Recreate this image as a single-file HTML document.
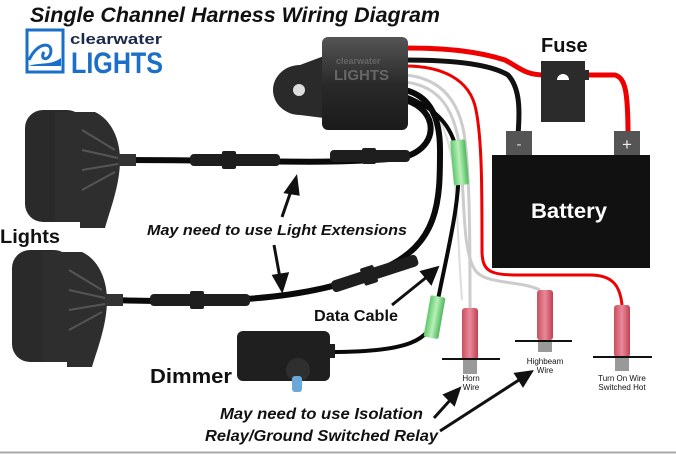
<!DOCTYPE html>
<html><head><meta charset="utf-8"><style>
html,body{margin:0;padding:0;background:#fff;}
svg{display:block;}
text{font-family:"Liberation Sans","DejaVu Sans",sans-serif;}
</style></head><body>
<svg width="676" height="454" viewBox="0 0 676 454" xmlns="http://www.w3.org/2000/svg">
<defs>
<linearGradient id="lg" x1="0" y1="0" x2="0" y2="1"><stop offset="0" stop-color="#555"/><stop offset="0.5" stop-color="#2a2a2a"/><stop offset="1" stop-color="#1a1a1a"/></linearGradient>
<linearGradient id="pk" x1="0" y1="0" x2="1" y2="0"><stop offset="0" stop-color="#c9505e"/><stop offset="0.5" stop-color="#e8899a"/><stop offset="1" stop-color="#c04050"/></linearGradient>
<linearGradient id="gr" x1="0" y1="0" x2="1" y2="0"><stop offset="0" stop-color="#5fc86a"/><stop offset="0.5" stop-color="#b8f0b8"/><stop offset="1" stop-color="#4db85a"/></linearGradient>
</defs>
<rect width="676" height="454" fill="#fff"/>
<line x1="0" y1="452.5" x2="676" y2="452.5" stroke="#aaa" stroke-width="2"/>
<text x="30" y="22" font-size="21" font-style="italic" font-weight="bold" fill="#111" textLength="410" lengthAdjust="spacingAndGlyphs">Single Channel Harness Wiring Diagram</text>
<!-- logo -->
<rect x="27" y="30" width="36" height="42" fill="none" stroke="#1a6fc9" stroke-width="3"/>
<path d="M29 60 C38 40 55 42 50 55 C46 62 40 58 44 52" fill="none" stroke="#1a6fc9" stroke-width="3"/>
<path d="M29 66 L61 66 L61 58 C50 66 38 62 29 66Z" fill="#1a6fc9"/>
<text x="70" y="44" font-size="15" font-weight="bold" fill="#1b2a4a" textLength="92" lengthAdjust="spacingAndGlyphs">clearwater</text>
<text x="71" y="73" font-size="30" font-weight="bold" fill="#1a6fc9" textLength="92" lengthAdjust="spacingAndGlyphs">LIGHTS</text>
<!-- power wires -->
<path d="M405 48 C450 48 480 52 505 60 C520 68 525 75 545 75" fill="none" stroke="#e00" stroke-width="5"/>
<path d="M585 75 L615 75 C625 78 628 90 628 135" fill="none" stroke="#e00" stroke-width="5"/>
<path d="M405 60 C450 60 490 64 508 75 C520 88 520 110 518 135" fill="none" stroke="#111" stroke-width="5"/>
<path d="M405 66 C440 66 470 78 476 110 C482 140 482 190 482 250 C482 272 490 275 520 275 L590 275 C612 275 620 285 622 305" fill="none" stroke="#e00" stroke-width="3"/>
<!-- gray wires -->
<path d="M405 75 C440 78 460 100 465 140 C470 180 470 250 470 310" fill="none" stroke="#ccc" stroke-width="3"/>
<path d="M405 82 C440 86 455 110 460 150 C465 200 462 250 475 270 C485 285 520 280 540 290" fill="none" stroke="#ccc" stroke-width="3"/>
<path d="M405 88 C430 95 445 120 452 160 C458 200 458 250 462 300" fill="none" stroke="#ddd" stroke-width="2"/>
<!-- fuse -->
<rect x="541" y="61" width="44" height="61" fill="#2b2b2b"/>
<rect x="583" y="70" width="6" height="10" fill="#2b2b2b"/>
<path d="M557 80 a6 6 0 0 1 12 0 Z" fill="#fff"/>
<text x="541" y="52" font-size="20" font-weight="bold" fill="#111">Fuse</text>
<!-- battery -->
<rect x="506" y="131" width="26" height="25" fill="#555"/>
<rect x="614" y="131" width="26" height="25" fill="#555"/>
<text x="519" y="149" font-size="15" fill="#ddd" text-anchor="middle">-</text>
<text x="627" y="150" font-size="17" fill="#eee" text-anchor="middle">+</text>
<rect x="492" y="155" width="158" height="113" fill="#111"/>
<text x="531" y="218" font-size="21" font-weight="bold" fill="#fff" textLength="76" lengthAdjust="spacingAndGlyphs">Battery</text>
<!-- light cables -->
<path d="M118 160 C250 160 330 165 400 158 C440 150 440 110 405 100" fill="none" stroke="#0a0a0a" stroke-width="6"/>
<path d="M105 300 C200 302 300 305 380 270 C440 245 440 200 440 150 C440 110 425 95 405 90" fill="none" stroke="#0a0a0a" stroke-width="6"/>
<path d="M405 96 C440 110 455 130 458 160 C462 200 445 260 435 315 C430 340 410 352 330 352" fill="none" stroke="#0a0a0a" stroke-width="4"/>
<!-- inline connectors -->
<g fill="#1e1e1e">
<rect x="190" y="154" width="90" height="12" rx="4"/><rect x="222" y="151" width="14" height="18" rx="2"/>
<rect x="330" y="150" width="80" height="12" rx="4"/><rect x="362" y="148" width="14" height="16" rx="2"/>
<rect x="150" y="294" width="100" height="12" rx="4"/><rect x="190" y="291" width="14" height="18" rx="2"/>
<g transform="rotate(-18 370 275)"><rect x="330" y="269" width="90" height="12" rx="4"/><rect x="362" y="266" width="14" height="18" rx="2"/></g>
</g>
<!-- green connectors -->
<rect x="452" y="140" width="15" height="45" rx="2" fill="url(#gr)" transform="rotate(-5 459 162)"/>
<rect x="427" y="296" width="15" height="42" rx="2" fill="url(#gr)" transform="rotate(10 434 317)"/>
<!-- module -->
<ellipse cx="300" cy="90" rx="27" ry="25" fill="#2a2a2a"/>
<path d="M300 65 L340 50 L340 120 L300 115Z" fill="#2a2a2a"/>
<circle cx="299" cy="90" r="6" fill="#ddd"/>
<rect x="322" y="37" width="86" height="93" rx="6" fill="url(#lg)"/>
<text x="336" y="64" font-size="9" font-weight="bold" fill="#666">clearwater</text>
<text x="334" y="80" font-size="15" font-weight="bold" fill="#666">LIGHTS</text>
<!-- lights -->
<g>
<rect x="25" y="110" width="60" height="112" rx="18" fill="#2a2a2a"/>
<path d="M55 112 L95 112 C112 120 120 140 120 160 C120 185 110 210 105 228 L80 228 L80 222 L55 222Z" fill="#2e2e2e"/>
<g stroke="#555" stroke-width="2"><line x1="82" y1="130" x2="115" y2="150"/><line x1="82" y1="150" x2="118" y2="158"/><line x1="82" y1="170" x2="118" y2="164"/><line x1="82" y1="190" x2="115" y2="172"/></g>
<rect x="118" y="154" width="18" height="12" fill="#333"/>
</g>
<g>
<rect x="12" y="250" width="60" height="112" rx="18" fill="#2a2a2a"/>
<path d="M42 252 L82 252 C99 260 107 280 107 300 C107 325 97 350 92 367 L67 367 L67 362 L42 362Z" fill="#2e2e2e"/>
<g stroke="#555" stroke-width="2"><line x1="69" y1="270" x2="102" y2="290"/><line x1="69" y1="290" x2="105" y2="298"/><line x1="69" y1="310" x2="105" y2="304"/><line x1="69" y1="330" x2="102" y2="312"/></g>
<rect x="105" y="294" width="18" height="12" fill="#333"/>
</g>
<!-- dimmer -->
<rect x="237" y="331" width="93" height="50" rx="6" fill="#1f1f1f"/>
<rect x="325" y="344" width="10" height="14" fill="#1f1f1f"/>
<circle cx="298" cy="370" r="12" fill="#2f2f2f"/>
<rect x="292" y="376" width="10" height="16" rx="3" fill="#6aa8d8"/>
<!-- pink connectors -->
<g>
<rect x="462" y="308" width="16" height="52" rx="3" fill="url(#pk)"/><rect x="463" y="360" width="14" height="14" fill="#999"/>
<line x1="442" y1="359" x2="500" y2="359" stroke="#111" stroke-width="2"/>
<rect x="537" y="290" width="16" height="50" rx="3" fill="url(#pk)"/><rect x="538" y="340" width="14" height="12" fill="#999"/>
<line x1="515" y1="341" x2="572" y2="341" stroke="#111" stroke-width="2"/>
<rect x="614" y="305" width="16" height="52" rx="3" fill="url(#pk)"/><rect x="615" y="357" width="14" height="14" fill="#999"/>
<line x1="593" y1="357" x2="652" y2="357" stroke="#111" stroke-width="2"/>
</g>
<g font-size="8" fill="#111" text-anchor="middle">
<text x="471" y="381">Horn</text><text x="471" y="390">Wire</text>
<text x="545" y="364">Highbeam</text><text x="545" y="373">Wire</text>
<text x="622" y="381">Turn On Wire</text><text x="622" y="390">Switched Hot</text>
</g>
<!-- labels -->
<text x="0" y="243" font-size="19" font-weight="bold" fill="#111" textLength="60" lengthAdjust="spacingAndGlyphs">Lights</text>
<text x="147" y="235" font-size="15" font-style="italic" font-weight="bold" fill="#111" textLength="260" lengthAdjust="spacingAndGlyphs">May need to use Light Extensions</text>
<text x="314" y="321" font-size="16" font-weight="bold" fill="#111" textLength="84" lengthAdjust="spacingAndGlyphs">Data Cable</text>
<text x="150" y="383" font-size="20" font-weight="bold" fill="#111" textLength="82" lengthAdjust="spacingAndGlyphs">Dimmer</text>
<text x="220" y="419" font-size="16" font-style="italic" font-weight="bold" fill="#111" textLength="203" lengthAdjust="spacingAndGlyphs">May need to use Isolation</text>
<text x="205" y="441" font-size="16" font-style="italic" font-weight="bold" fill="#111" textLength="233" lengthAdjust="spacingAndGlyphs">Relay/Ground Switched Relay</text>
<!-- arrows -->
<g stroke="#111" stroke-width="3" fill="#111">
<line x1="282" y1="217" x2="292" y2="188"/><path d="M296 178 L286 192 L298 194Z"/>
<line x1="274" y1="245" x2="280" y2="278"/><path d="M282 290 L274 276 L287 274Z"/>
<line x1="392" y1="305" x2="428" y2="276"/><path d="M437 268 L422 272 L431 283Z"/>
<line x1="434" y1="418" x2="452" y2="398"/><path d="M459 389 L445 395 L454 404Z"/>
<line x1="440" y1="431" x2="522" y2="378"/><path d="M531 372 L516 374 L523 385Z"/>
</g>
</svg>
</body></html>
